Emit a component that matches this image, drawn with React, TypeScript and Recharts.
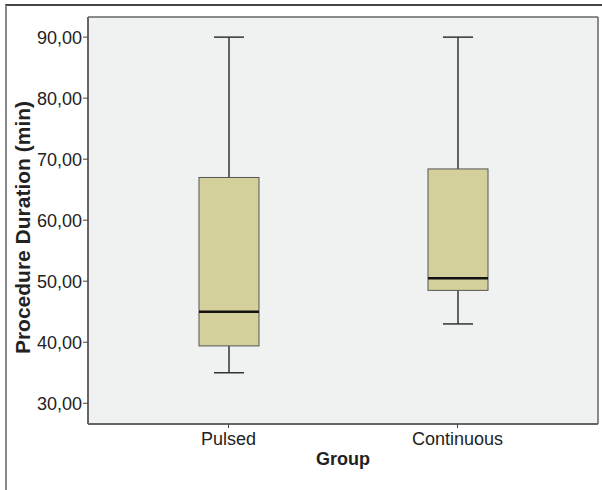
import { ComposedChart, Bar, XAxis, YAxis, CartesianGrid } from 'recharts'

const groups = ['Pulsed', 'Continuous']
const minVals = [35, 43]
const q1Vals = [39.4, 48.5]
const medianVals = [45, 50.5]
const q3Vals = [67, 68.4]
const maxVals = [90, 90]
const yTicks = [30, 40, 50, 60, 70, 80, 90]

const data = groups.map((g, i) => ({
  group: g,
  min: minVals[i],
  q1: q1Vals[i],
  median: medianVals[i],
  q3: q3Vals[i],
  max: maxVals[i],
  range: [minVals[i], maxVals[i]],
}))

const font = '"Liberation Sans", Arial, sans-serif'

// whole box + whiskers drawn from the bar that spans min..max
function BoxShape(props: any) {
  const { x, y, width, height, payload } = props
  const { min, q1, median, q3, max } = payload
  const py = (v: number) => y + ((max - v) / (max - min)) * height
  const cx = x + width / 2
  const cap = width / 4
  return (
    <g>
      <line x1={cx} x2={cx} y1={py(max)} y2={py(q3)} stroke="#333" strokeWidth={1.5} />
      <line x1={cx} x2={cx} y1={py(q1)} y2={py(min)} stroke="#333" strokeWidth={1.5} />
      <line x1={cx - cap} x2={cx + cap} y1={py(max)} y2={py(max)} stroke="#333" strokeWidth={1.5} />
      <line x1={cx - cap} x2={cx + cap} y1={py(min)} y2={py(min)} stroke="#333" strokeWidth={1.5} />
      <rect x={x} y={py(q3)} width={width} height={py(q1) - py(q3)} fill="#d4d09c" stroke="#555" strokeWidth={1} />
      <line x1={x} x2={x + width} y1={py(median)} y2={py(median)} stroke="#111" strokeWidth={2.5} />
    </g>
  )
}

export default function App() {
  return (
    <div style={{ position: 'absolute', left: 0, top: 0, width: 602, height: 490, background: '#fff' }}>
      <div
        style={{
          position: 'absolute',
          left: 5,
          top: 4,
          right: 0,
          bottom: 0,
          borderTop: '2px solid #444',
          borderLeft: '2px solid #888',
        }}
      />
      <ComposedChart
        width={602}
        height={490}
        data={data}
        margin={{ top: 17, right: 4, left: 0, bottom: 36 }}
        style={{ position: 'absolute', left: 0, top: 0 }}
      >
        <CartesianGrid
          fill="#f0f1f1"
          stroke="#666"
          strokeWidth={1.5}
          horizontalCoordinatesGenerator={({ offset }: any) => [offset.top, offset.top + offset.height]}
          verticalCoordinatesGenerator={({ offset }: any) => [offset.left, offset.left + offset.width]}
        />
        <XAxis
          dataKey="group"
          padding={{ left: 26, right: 26 }}
          height={30}
          tickSize={4}
          tickMargin={4}
          axisLine={{ stroke: '#666', strokeWidth: 2 }}
          tickLine={{ stroke: '#444' }}
          tick={{ fill: '#222', fontSize: 18, fontFamily: font }}
          label={{
            content: (p: any) => {
              const vb = p.viewBox
              return (
                <text x={vb.x + vb.width / 2} y={465} textAnchor="middle" fontFamily={font} fontSize={18} fontWeight="bold" fill="#222">
                  Group
                </text>
              )
            },
          }}
        />
        <YAxis
          type="number"
          domain={[26.6, 93.3]}
          allowDataOverflow
          ticks={yTicks}
          width={88}
          tickSize={5}
          tickMargin={1}
          tickFormatter={(v: number) => v.toFixed(2).replace('.', ',')}
          axisLine={{ stroke: '#666', strokeWidth: 2 }}
          tickLine={{ stroke: '#444' }}
          tick={{ fill: '#222', fontSize: 18, fontFamily: font }}
          label={{
            content: (p: any) => {
              const vb = p.viewBox
              const cy = vb.y + vb.height / 2 + 7
              return (
                <text x={30} y={cy} transform={`rotate(-90 30 ${cy})`} textAnchor="middle" fontFamily={font} fontSize={21} fontWeight="bold" fill="#222">
                  Procedure Duration (min)
                </text>
              )
            },
          }}
        />
        <Bar dataKey="range" barSize={60} shape={BoxShape} isAnimationActive={false} />
      </ComposedChart>
    </div>
  )
}
